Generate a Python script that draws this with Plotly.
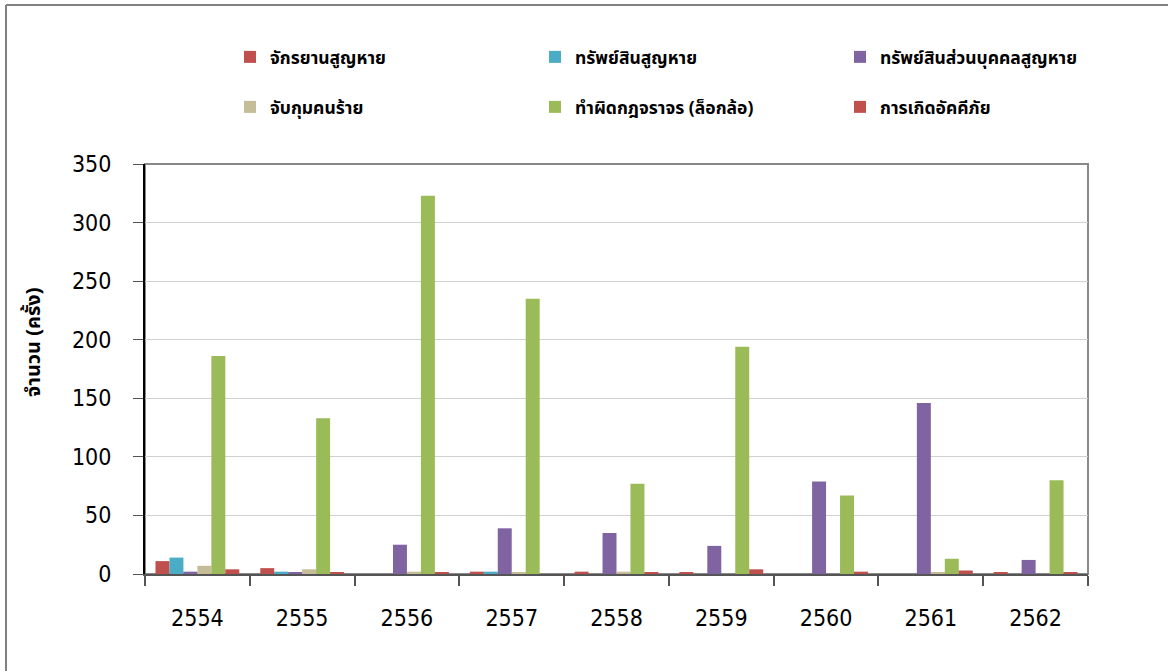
import plotly.graph_objects as go

years = ["2554", "2555", "2556", "2557", "2558", "2559", "2560", "2561", "2562"]
bicycle_lost = [11, 5, 0, 2, 2, 1, 0, 0, 1]
property_lost = [14, 2, 0, 2, 0, 0, 0, 0, 0]
personal_property_lost = [2, 1, 25, 39, 35, 24, 79, 146, 12]
arrests = [7, 4, 2, 1, 2, 0, 0, 1, 0]
traffic_violations = [186, 133, 323, 235, 77, 194, 67, 13, 80]
accidents = [4, 1, 1, 0, 1, 4, 2, 3, 1]

series = [
    ("จักรยานสูญหาย", bicycle_lost, "#C0504D", "legend"),
    ("ทรัพย์สินสูญหาย", property_lost, "#4BACC6", "legend"),
    ("ทรัพย์สินส่วนบุคคลสูญหาย", personal_property_lost, "#8064A2", "legend"),
    ("จับกุมคนร้าย", arrests, "#C4BD97", "legend2"),
    ("ทำผิดกฎจราจร (ล็อกล้อ)", traffic_violations, "#9BBB59", "legend2"),
    ("การเกิดอัคคีภัย", accidents, "#C0504D", "legend2"),
]

W, H = 1168, 671
ML, MT = 145, 164
MR = W - 1088
MB = H - 574
PW = W - ML - MR
PH = H - MT - MB


def px_x(p):
    return (p - ML) / PW


def px_y(p):
    return (H - MB - p) / PH


fig = go.Figure()
for name, vals, color, lg in series:
    fig.add_trace(go.Bar(
        x=years, y=vals, name=name, legend=lg,
        marker=dict(color=color, line=dict(width=0)),
    ))

num_font = dict(family="DejaVu Sans Condensed, Liberation Sans, sans-serif", size=23, color="#000000")
thai_family = "Tahoma, Noto Sans Thai, Noto Sans, DejaVu Sans, sans-serif"
leg_font = dict(family=thai_family, size=17.5, color="#000000", weight="bold")

fig.update_layout(
    width=W, height=H,
    margin=dict(l=ML, r=MR, t=MT, b=MB, autoexpand=False),
    paper_bgcolor="white", plot_bgcolor="white",
    barmode="group", bargap=0.2, bargroupgap=0,
    showlegend=True,
    legend=dict(orientation="h", x=px_x(230), y=px_y(57), xanchor="left", yanchor="middle",
                entrywidth=260, entrywidthmode="pixels", font=leg_font,
                bgcolor="rgba(0,0,0,0)", traceorder="normal"),
    legend2=dict(orientation="h", x=px_x(230), y=px_y(107), xanchor="left", yanchor="middle",
                 entrywidth=260, entrywidthmode="pixels", font=leg_font,
                 bgcolor="rgba(0,0,0,0)", traceorder="normal"),
    xaxis=dict(type="category", showline=True, linecolor="#555555", linewidth=2,
               ticks="outside", ticklen=10, tickcolor="#555555", tickwidth=2,
               tickson="boundaries", tickfont=num_font, ticklabelstandoff=22,
               showgrid=False, zeroline=False),
    yaxis=dict(range=[0, 350], dtick=50, showline=True, linecolor="#000000", linewidth=2,
               ticks="outside", ticklen=10, tickcolor="#555555", tickwidth=1,
               tickfont=num_font, ticklabelstandoff=17,
               showgrid=True, gridcolor="#D0D0D0", gridwidth=1, zeroline=False),
    shapes=[
        dict(type="rect", xref="paper", yref="paper", x0=0, x1=1, y0=0, y1=1,
             line=dict(color="#888888", width=2), layer="below"),
        dict(type="line", xref="paper", yref="paper", x0=px_x(6), x1=px_x(1300), y0=px_y(5), y1=px_y(5),
             line=dict(color="#808080", width=2)),
        dict(type="line", xref="paper", yref="paper", x0=px_x(6), x1=px_x(6), y0=px_y(5), y1=px_y(700),
             line=dict(color="#808080", width=2)),
    ],
    annotations=[
        dict(text="จำนวน (ครั้ง)", xref="paper", yref="paper", x=px_x(34), y=px_y(343),
             showarrow=False, textangle=-90, xanchor="center", yanchor="middle",
             font=dict(family=thai_family, size=20, color="#000000", weight="bold")),
    ],
)

fig.write_html("out.html", config={"displayModeBar": False},
               post_script="document.body.style.margin='0px';document.body.style.overflow='hidden';")
